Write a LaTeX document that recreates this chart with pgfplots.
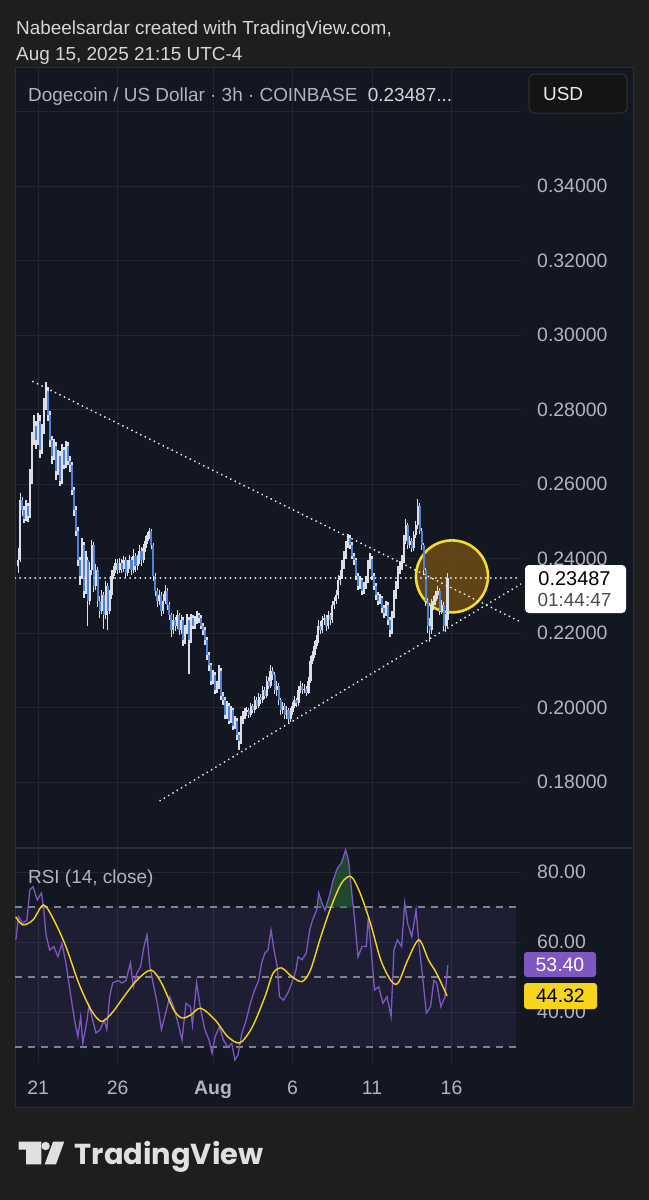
\documentclass[border=0pt]{standalone}
\usepackage{fontspec}
\setmainfont{Liberation Sans}
\newfontfamily\logofont{Poppins}
\usepackage{pgfplots}
\usepackage{pgfplotstable}
\pgfplotsset{compat=1.18}

\definecolor{outerbg}{HTML}{1E1E1E}
\definecolor{panelbg}{HTML}{131722}
\definecolor{panelbd}{HTML}{2A2E39}
\definecolor{gridc}{HTML}{232734}
\definecolor{labc}{HTML}{B2B5BE}
\definecolor{hdrc}{HTML}{D6D6D6}
\definecolor{upc}{HTML}{DCDFE6}
\definecolor{dnc}{HTML}{4E82DA}
\definecolor{rsic}{HTML}{7E57C2}
\definecolor{rsima}{HTML}{F7D51D}
\definecolor{circc}{HTML}{F2DC2C}
\definecolor{circf}{HTML}{6E4C14}
\definecolor{dashc}{HTML}{80838C}
\definecolor{obfill}{HTML}{245E36}

% 3h candles: day offset from Aug 1, open, high, low, close
\pgfplotstableread{
d o h l c
-12.250 0.2380 0.2427 0.2362 0.2395
-12.125 0.2395 0.2577 0.2390 0.2556
-12.000 0.2556 0.2565 0.2515 0.2529
-11.875 0.2529 0.2540 0.2494 0.2507
-11.750 0.2507 0.2556 0.2500 0.2542
-11.625 0.2542 0.2550 0.2498 0.2515
-11.500 0.2515 0.2640 0.2510 0.2609
-11.375 0.2609 0.2740 0.2600 0.2717
-11.250 0.2717 0.2784 0.2705 0.2757
-11.125 0.2757 0.2770 0.2695 0.2717
-11.000 0.2717 0.2790 0.2705 0.2770
-10.875 0.2770 0.2785 0.2670 0.2690
-10.750 0.2690 0.2760 0.2680 0.2744
-10.625 0.2744 0.2830 0.2735 0.2811
-10.500 0.2811 0.2873 0.2800 0.2851
-10.375 0.2851 0.2860 0.2770 0.2784
-10.250 0.2784 0.2795 0.2700 0.2717
-10.125 0.2717 0.2730 0.2655 0.2676
-10.000 0.2676 0.2720 0.2665 0.2703
-9.875 0.2703 0.2712 0.2610 0.2636
-9.750 0.2636 0.2690 0.2625 0.2676
-9.625 0.2676 0.2688 0.2595 0.2609
-9.500 0.2609 0.2708 0.2600 0.2690
-9.375 0.2690 0.2700 0.2640 0.2650
-9.250 0.2650 0.2715 0.2642 0.2703
-9.125 0.2703 0.2712 0.2650 0.2663
-9.000 0.2663 0.2675 0.2632 0.2650
-8.875 0.2650 0.2660 0.2570 0.2583
-8.750 0.2583 0.2592 0.2515 0.2529
-8.625 0.2529 0.2540 0.2460 0.2475
-8.500 0.2475 0.2485 0.2380 0.2395
-8.375 0.2395 0.2405 0.2330 0.2354
-8.250 0.2354 0.2455 0.2345 0.2435
-8.125 0.2435 0.2445 0.2295 0.2314
-8.000 0.2314 0.2420 0.2305 0.2395
-7.875 0.2395 0.2405 0.2220 0.2287
-7.750 0.2287 0.2390 0.2275 0.2368
-7.625 0.2368 0.2450 0.2355 0.2435
-7.500 0.2435 0.2445 0.2310 0.2327
-7.375 0.2327 0.2385 0.2315 0.2368
-7.250 0.2368 0.2378 0.2270 0.2287
-7.125 0.2287 0.2300 0.2240 0.2260
-7.000 0.2260 0.2315 0.2250 0.2301
-6.875 0.2301 0.2310 0.2212 0.2247
-6.750 0.2247 0.2340 0.2238 0.2327
-6.625 0.2327 0.2335 0.2207 0.2260
-6.500 0.2260 0.2315 0.2250 0.2301
-6.375 0.2301 0.2368 0.2290 0.2354
-6.250 0.2354 0.2380 0.2345 0.2368
-6.125 0.2368 0.2400 0.2360 0.2389
-6.000 0.2389 0.2398 0.2358 0.2368
-5.875 0.2368 0.2402 0.2360 0.2389
-5.750 0.2389 0.2400 0.2362 0.2373
-5.625 0.2373 0.2408 0.2365 0.2395
-5.500 0.2395 0.2405 0.2350 0.2362
-5.375 0.2362 0.2395 0.2352 0.2381
-5.250 0.2381 0.2410 0.2372 0.2395
-5.125 0.2395 0.2405 0.2355 0.2368
-5.000 0.2368 0.2425 0.2360 0.2408
-4.875 0.2408 0.2415 0.2365 0.2381
-4.750 0.2381 0.2410 0.2370 0.2395
-4.625 0.2395 0.2435 0.2385 0.2421
-4.500 0.2421 0.2430 0.2380 0.2395
-4.375 0.2395 0.2440 0.2388 0.2427
-4.250 0.2427 0.2460 0.2418 0.2448
-4.125 0.2448 0.2472 0.2438 0.2462
-4.000 0.2462 0.2482 0.2452 0.2475
-3.875 0.2475 0.2480 0.2425 0.2435
-3.750 0.2435 0.2442 0.2340 0.2354
-3.625 0.2354 0.2362 0.2300 0.2314
-3.500 0.2314 0.2322 0.2270 0.2287
-3.375 0.2287 0.2315 0.2275 0.2301
-3.250 0.2301 0.2310 0.2245 0.2260
-3.125 0.2260 0.2305 0.2250 0.2287
-3.000 0.2287 0.2330 0.2278 0.2314
-2.875 0.2314 0.2322 0.2262 0.2274
-2.750 0.2274 0.2282 0.2235 0.2247
-2.625 0.2247 0.2255 0.2190 0.2207
-2.500 0.2207 0.2250 0.2198 0.2234
-2.375 0.2234 0.2242 0.2205 0.2220
-2.250 0.2220 0.2262 0.2210 0.2247
-2.125 0.2247 0.2255 0.2195 0.2207
-2.000 0.2207 0.2248 0.2198 0.2234
-1.875 0.2234 0.2242 0.2165 0.2180
-1.750 0.2180 0.2222 0.2170 0.2207
-1.625 0.2207 0.2250 0.2198 0.2234
-1.500 0.2234 0.2242 0.2091 0.2180
-1.375 0.2180 0.2252 0.2172 0.2239
-1.250 0.2239 0.2248 0.2210 0.2220
-1.125 0.2220 0.2245 0.2212 0.2234
-1.000 0.2234 0.2258 0.2225 0.2247
-0.875 0.2247 0.2255 0.2228 0.2239
-0.750 0.2239 0.2248 0.2210 0.2220
-0.625 0.2220 0.2228 0.2195 0.2207
-0.500 0.2207 0.2215 0.2168 0.2180
-0.375 0.2180 0.2190 0.2128 0.2140
-0.250 0.2140 0.2150 0.2098 0.2113
-0.125 0.2113 0.2120 0.2060 0.2072
0.000 0.2072 0.2100 0.2062 0.2086
0.125 0.2086 0.2095 0.2035 0.2046
0.250 0.2046 0.2072 0.2038 0.2059
0.375 0.2059 0.2113 0.2050 0.2099
0.500 0.2099 0.2105 0.2020 0.2032
0.625 0.2032 0.2042 0.2008 0.2019
0.750 0.2019 0.2028 0.1968 0.1979
0.875 0.1979 0.2018 0.1970 0.2005
1.000 0.2005 0.2012 0.1955 0.1965
1.125 0.1965 0.2005 0.1958 0.1992
1.250 0.1992 0.2000 0.1940 0.1951
1.375 0.1951 0.1978 0.1942 0.1965
1.500 0.1965 0.1972 0.1912 0.1925
1.625 0.1925 0.1935 0.1885 0.1911
1.750 0.1911 0.1978 0.1902 0.1965
1.875 0.1965 0.1990 0.1955 0.1979
2.000 0.1979 0.1998 0.1970 0.1987
2.125 0.1987 0.2002 0.1978 0.1992
2.250 0.1992 0.2000 0.1972 0.1981
2.375 0.1981 0.2012 0.1975 0.2003
2.500 0.2003 0.2010 0.1985 0.1992
2.625 0.1992 0.2030 0.1985 0.2019
2.750 0.2019 0.2028 0.1996 0.2005
2.875 0.2005 0.2040 0.1998 0.2027
3.000 0.2027 0.2035 0.2010 0.2019
3.125 0.2019 0.2058 0.2012 0.2046
3.250 0.2046 0.2055 0.2022 0.2032
3.375 0.2032 0.2085 0.2025 0.2072
3.500 0.2072 0.2082 0.2050 0.2059
3.625 0.2059 0.2113 0.2052 0.2099
3.750 0.2099 0.2108 0.2075 0.2086
3.875 0.2086 0.2095 0.2035 0.2046
4.000 0.2046 0.2070 0.2030 0.2059
4.125 0.2059 0.2065 0.2008 0.2019
4.250 0.2019 0.2025 0.1980 0.1992
4.375 0.1992 0.2015 0.1982 0.2005
4.500 0.2005 0.2012 0.1968 0.1979
4.625 0.1979 0.2003 0.1970 0.1992
4.750 0.1992 0.1998 0.1957 0.1970
4.875 0.1970 0.1998 0.1962 0.1987
5.000 0.1987 0.2015 0.1980 0.2005
5.125 0.2005 0.2030 0.1998 0.2019
5.250 0.2019 0.2025 0.2002 0.2011
5.375 0.2011 0.2058 0.2005 0.2046
5.500 0.2046 0.2070 0.2038 0.2059
5.625 0.2059 0.2065 0.2035 0.2046
5.750 0.2046 0.2062 0.2038 0.2051
5.875 0.2051 0.2058 0.2030 0.2040
6.000 0.2040 0.2082 0.2035 0.2072
6.125 0.2072 0.2138 0.2065 0.2126
6.250 0.2126 0.2152 0.2118 0.2140
6.375 0.2140 0.2178 0.2132 0.2166
6.500 0.2166 0.2195 0.2158 0.2180
6.625 0.2180 0.2235 0.2172 0.2220
6.750 0.2220 0.2232 0.2196 0.2207
6.875 0.2207 0.2245 0.2200 0.2234
7.000 0.2234 0.2250 0.2222 0.2239
7.125 0.2239 0.2248 0.2205 0.2220
7.250 0.2220 0.2258 0.2212 0.2247
7.375 0.2247 0.2255 0.2222 0.2234
7.500 0.2234 0.2285 0.2228 0.2274
7.625 0.2274 0.2298 0.2265 0.2287
7.750 0.2287 0.2315 0.2278 0.2301
7.875 0.2301 0.2355 0.2292 0.2341
8.000 0.2341 0.2368 0.2330 0.2354
8.125 0.2354 0.2395 0.2345 0.2381
8.250 0.2381 0.2420 0.2372 0.2408
8.375 0.2408 0.2448 0.2400 0.2435
8.500 0.2435 0.2467 0.2428 0.2454
8.625 0.2454 0.2462 0.2425 0.2435
8.750 0.2435 0.2445 0.2398 0.2408
8.875 0.2408 0.2415 0.2382 0.2395
9.000 0.2395 0.2402 0.2342 0.2354
9.125 0.2354 0.2362 0.2315 0.2327
9.250 0.2327 0.2352 0.2318 0.2341
9.375 0.2341 0.2348 0.2302 0.2314
9.500 0.2314 0.2338 0.2305 0.2327
9.625 0.2327 0.2352 0.2318 0.2341
9.750 0.2341 0.2395 0.2335 0.2381
9.875 0.2381 0.2416 0.2372 0.2400
10.000 0.2400 0.2408 0.2342 0.2354
10.125 0.2354 0.2362 0.2315 0.2327
10.250 0.2327 0.2335 0.2288 0.2301
10.375 0.2301 0.2310 0.2275 0.2287
10.500 0.2287 0.2305 0.2278 0.2293
10.625 0.2293 0.2300 0.2255 0.2266
10.750 0.2266 0.2275 0.2240 0.2255
10.875 0.2255 0.2285 0.2245 0.2274
11.000 0.2274 0.2282 0.2222 0.2234
11.125 0.2234 0.2242 0.2188 0.2207
11.250 0.2207 0.2260 0.2198 0.2247
11.375 0.2247 0.2315 0.2240 0.2301
11.500 0.2301 0.2340 0.2292 0.2327
11.625 0.2327 0.2380 0.2318 0.2368
11.750 0.2368 0.2392 0.2358 0.2381
11.875 0.2381 0.2410 0.2370 0.2395
12.000 0.2395 0.2462 0.2388 0.2448
12.125 0.2448 0.2507 0.2440 0.2489
12.250 0.2489 0.2495 0.2425 0.2435
12.375 0.2435 0.2460 0.2428 0.2448
12.500 0.2448 0.2455 0.2418 0.2427
12.625 0.2427 0.2475 0.2420 0.2462
12.750 0.2462 0.2500 0.2455 0.2489
12.875 0.2489 0.2561 0.2480 0.2542
13.000 0.2542 0.2550 0.2465 0.2475
13.125 0.2475 0.2482 0.2422 0.2435
13.250 0.2435 0.2442 0.2355 0.2368
13.375 0.2368 0.2375 0.2272 0.2287
13.500 0.2287 0.2295 0.2200 0.2220
13.625 0.2220 0.2240 0.2177 0.2207
13.750 0.2207 0.2290 0.2198 0.2274
13.875 0.2274 0.2300 0.2262 0.2287
14.000 0.2287 0.2312 0.2275 0.2301
14.125 0.2301 0.2325 0.2290 0.2314
14.250 0.2314 0.2322 0.2248 0.2260
14.375 0.2260 0.2288 0.2250 0.2274
14.500 0.2274 0.2282 0.2208 0.2220
14.625 0.2220 0.2250 0.2204 0.2234
14.750 0.2234 0.2362 0.2215 0.2349
}\candles

% RSI(14)
\pgfplotstableread{
d v
-12.40 60.6
-12.23 67.2
-11.96 65.4
-11.70 66.3
-11.52 74.9
-11.32 75.8
-11.05 72.0
-10.79 74.0
-10.66 70.0
-10.50 62.0
-10.27 57.7
-10.01 58.7
-9.75 55.8
-9.50 59.6
-9.25 54.0
-9.00 46.3
-8.71 37.7
-8.50 33.0
-8.32 38.7
-8.19 31.0
-7.92 37.7
-7.80 42.0
-7.62 38.7
-7.36 34.0
-7.11 34.9
-6.84 37.7
-6.68 35.0
-6.50 44.4
-6.31 48.3
-5.97 49.0
-5.72 48.3
-5.47 49.0
-5.19 54.0
-5.01 47.2
-4.80 51.0
-4.55 53.0
-4.34 58.7
-4.15 62.0
-3.97 53.0
-3.77 48.3
-3.50 42.5
-3.24 35.0
-2.98 39.7
-2.72 44.4
-2.47 41.5
-2.20 36.8
-1.95 32.0
-1.70 42.5
-1.42 41.5
-1.29 36.3
-1.03 48.3
-0.77 40.6
-0.51 34.9
-0.25 32.0
-0.06 28.2
0.14 33.0
0.40 35.8
0.66 32.0
0.92 30.0
1.18 31.0
1.38 26.3
1.57 27.7
1.82 34.0
2.09 37.7
2.35 42.5
2.62 46.3
2.87 49.0
3.06 54.0
3.27 56.9
3.46 57.7
3.65 63.4
3.84 57.7
4.04 53.0
4.18 44.4
4.43 43.4
4.70 45.4
4.96 48.3
5.22 52.0
5.35 55.8
5.60 54.9
5.87 56.9
6.08 63.4
6.26 66.3
6.52 69.1
6.65 74.0
6.86 71.1
7.04 69.1
7.30 72.9
7.56 77.7
7.82 81.1
8.08 82.6
8.34 86.3
8.52 83.4
8.73 74.0
8.93 65.4
9.12 55.8
9.37 58.7
9.64 58.7
9.77 67.2
9.98 55.8
10.16 46.3
10.42 47.2
10.69 42.5
10.94 44.4
11.20 38.7
11.38 57.7
11.60 60.6
11.86 58.7
12.06 71.1
12.24 65.4
12.50 61.5
12.77 69.1
12.95 59.6
13.16 51.0
13.42 39.7
13.68 41.5
13.89 49.0
14.07 48.3
14.33 41.5
14.59 44.4
14.77 53.4
}\rsi

% RSI-based moving average
\pgfplotstableread{
d v
-12.41 67.2
-11.96 64.9
-11.32 66.3
-10.66 70.6
-10.01 66.3
-9.25 58.7
-8.45 48.3
-7.67 40.6
-7.02 37.3
-6.36 39.7
-5.60 44.4
-4.81 49.0
-3.90 52.0
-3.24 48.3
-2.47 40.6
-1.95 38.3
-1.42 39.1
-0.77 41.1
0.14 37.7
0.92 33.0
1.70 31.2
2.48 35.8
3.27 44.4
3.77 51.0
4.31 52.6
4.96 50.1
5.60 48.7
6.13 52.0
6.78 61.5
7.42 70.0
8.08 76.8
8.68 78.7
9.25 74.0
9.90 65.4
10.55 54.9
11.19 49.0
11.64 48.3
12.25 54.9
12.95 60.6
13.55 54.9
14.07 51.0
14.72 44.6
}\rsima

\pgfplotsset{
  tvbase/.style={
    scale only axis, width=506bp,
    xmin=-12.453, xmax=19.371,
    axis line style={draw=none},
    major tick length=0pt,
    tick style={draw=none},
    xtick={-11,-6,0,5,10,15},
    grid=major,
    grid style={draw=gridc, line width=1bp},
    yticklabel pos=right,
    ticklabel style={text=labc, font=\fontsize{19.5}{22}\selectfont},
    yticklabel style={anchor=west, inner sep=0pt, xshift=16bp},
    clip=true,
  },
  dotln/.style={color=white!90!gray, line width=2bp, line cap=round, dash pattern=on 0.01bp off 5bp, forget plot},
  candle/.style 2 args={draw=none, mark=none, forget plot,
    error bars/.cd, y dir=plus, y explicit, error mark=none,
    error bar style={draw=#1, solid, line width=#2}},
}

\begin{document}
\begin{tikzpicture}
\useasboundingbox (0,0) rectangle (649bp,-1200bp);
\fill[outerbg] (0,0) rectangle (649bp,-1200bp);
\begin{scope}[x=1bp,y=1bp]
  \fill[panelbg] (15,-67) rectangle (633,-1107);
  \draw[panelbd, line width=1bp] (15,-67) rectangle (633,-1107);
  \draw[panelbd, line width=1.5bp] (15,-848) -- (633,-848);
  \node[anchor=base west, inner sep=0, text=hdrc, font=\fontsize{19}{21}\selectfont] at (16,-34.3) {Nabeelsardar created with TradingView.com,};
  \node[anchor=base west, inner sep=0, text=hdrc, font=\fontsize{19}{21}\selectfont] at (16,-60) {Aug 15, 2025 21:15 UTC-4};
\end{scope}

% ---------- price pane ----------
\begin{axis}[tvbase, at={(15bp,-848bp)}, anchor=south west, height=781bp,
  ymin=0.16228, ymax=0.37195,
  ytick={0.18,0.20,0.22,0.24,0.26,0.28,0.30,0.32,0.34,0.36},
  yticklabels={0.18000,0.20000,0.22000,0.24000,0.26000,0.28000,0.30000,0.32000,0.34000,{}},
  xticklabels={}]
  \draw[circc, line width=2.6bp, fill=circf, fill opacity=0.85] (axis cs:15.03,0.2352) circle[radius=36bp];
  % wicks
  \addplot[candle={upc}{1.4bp}]
    table[x=d, y=l, y error expr=\thisrow{h}-\thisrow{l}] {\candles};
  % up bodies
  \addplot[restrict expr to domain={\thisrow{c}-\thisrow{o}}{0:1}, candle={upc}{2.3bp}]
    table[x=d, y=o, y error expr=\thisrow{c}-\thisrow{o}] {\candles};
  % down bodies
  \addplot[restrict expr to domain={\thisrow{o}-\thisrow{c}}{0.00001:1}, candle={dnc}{2.1bp}]
    table[x=d, y=c, y error expr=\thisrow{o}-\thisrow{c}] {\candles};
  % trend lines and last price
  \addplot[dotln] coordinates {(-11.32,0.2875) (19.43,0.2228)};
  \addplot[dotln] coordinates {(-3.33,0.1750) (19.43,0.2333)};
  \addplot[dotln] coordinates {(-12.453,0.23487) (19.371,0.23487)};
\end{axis}

% ---------- RSI pane ----------
\begin{axis}[tvbase, at={(15bp,-1063bp)}, anchor=south west, height=215bp,
  ymin=25.43, ymax=86.857,
  ytick={40,60,80}, yticklabels={40.00,60.00,80.00},
  xticklabels={21,26,\textbf{Aug},6,11,16},
  xticklabel style={anchor=base, yshift=-31bp}]
  \addplot[draw=none, fill=rsic, fill opacity=0.11, forget plot] coordinates {(-12.453,30) (19.05,30) (19.05,70) (-12.453,70)} -- cycle;
  \addplot[draw=dashc, line width=1.1bp, dash pattern=on 7bp off 6bp, forget plot] coordinates {(-12.453,70) (19.05,70)};
  \addplot[draw=dashc, line width=1.1bp, dash pattern=on 7bp off 6bp, forget plot] coordinates {(-12.453,50) (19.05,50)};
  \addplot[draw=dashc, line width=1.1bp, dash pattern=on 7bp off 6bp, forget plot] coordinates {(-12.453,30) (19.05,30)};
  \addplot[draw=none, fill=obfill, fill opacity=0.7, forget plot] coordinates {(6.56,70) (6.65,74.0) (6.86,71.1) (6.91,70)} -- cycle;
  \addplot[draw=none, fill=obfill, fill opacity=0.7, forget plot] coordinates {(7.14,70) (7.30,72.9) (7.56,77.7) (7.82,81.1) (8.08,82.6) (8.34,86.3) (8.52,83.4) (8.73,74.0) (8.78,70)} -- cycle;
  \addplot[rsic, line width=1.3bp, forget plot] table[x=d, y=v] {\rsi};
  \addplot[rsima, line width=1.4bp, smooth, forget plot] table[x=d, y=v] {\rsima};
\end{axis}

\begin{scope}[x=1bp,y=1bp]
  % legend line
  \node[anchor=base west, inner sep=0, text=labc, font=\fontsize{19}{21}\selectfont] at (28,-101.7) {Dogecoin / US Dollar · 3h · COINBASE\hspace{0.55em}\textcolor{hdrc}{0.23487...}};
  % USD button
  \draw[fill=black!92, draw=white!20!black, line width=1bp, rounded corners=5bp] (529,-74) rectangle (627,-113);
  \node[anchor=base west, inner sep=0, text=white!92!black, font=\fontsize{19}{21}\selectfont] at (543,-100.5) {USD};
  % last price box
  \fill[white, rounded corners=4bp] (525,-565) rectangle (626,-613);
  \node[text=black, font=\fontsize{20}{22}\selectfont, inner sep=0] at (574.5,-578.5) {0.23487};
  \node[text=black!70, font=\fontsize{19}{21}\selectfont, inner sep=0] at (574.5,-600) {01:44:47};
  % RSI title
  \node[anchor=base west, inner sep=0, text=labc, font=\fontsize{19}{21}\selectfont] at (28,-883) {RSI (14, close)};
  % RSI value boxes
  \fill[rsic, rounded corners=3bp] (524,-952) rectangle (596,-977);
  \node[text=white, font=\fontsize{19.5}{21}\selectfont, inner sep=0] at (560,-964.5) {53.40};
  \fill[rsima, rounded corners=3bp] (524,-983) rectangle (597,-1009);
  \node[text=black, font=\fontsize{19.5}{21}\selectfont, inner sep=0] at (560.5,-996) {44.32};
  % TradingView logo
  \fill[white!88!black] (18.6,-1141.7) -- (41.4,-1141.7) -- (41.4,-1164.3) -- (26,-1164.3) -- (26,-1149.6) -- (18.6,-1149.6) -- cycle;
  \fill[white!88!black] (45.6,-1146) circle[radius=4.2];
  \fill[white!88!black] (44.7,-1164.3) -- (56,-1164.3) -- (64.2,-1141.7) -- (53,-1141.7) -- cycle;
  \node[anchor=base west, inner sep=0, text=white!88!black, font=\logofont\bfseries\fontsize{29}{31}\selectfont] at (74.5,-1164) {TradingView};
\end{scope}
\end{tikzpicture}
\end{document}
